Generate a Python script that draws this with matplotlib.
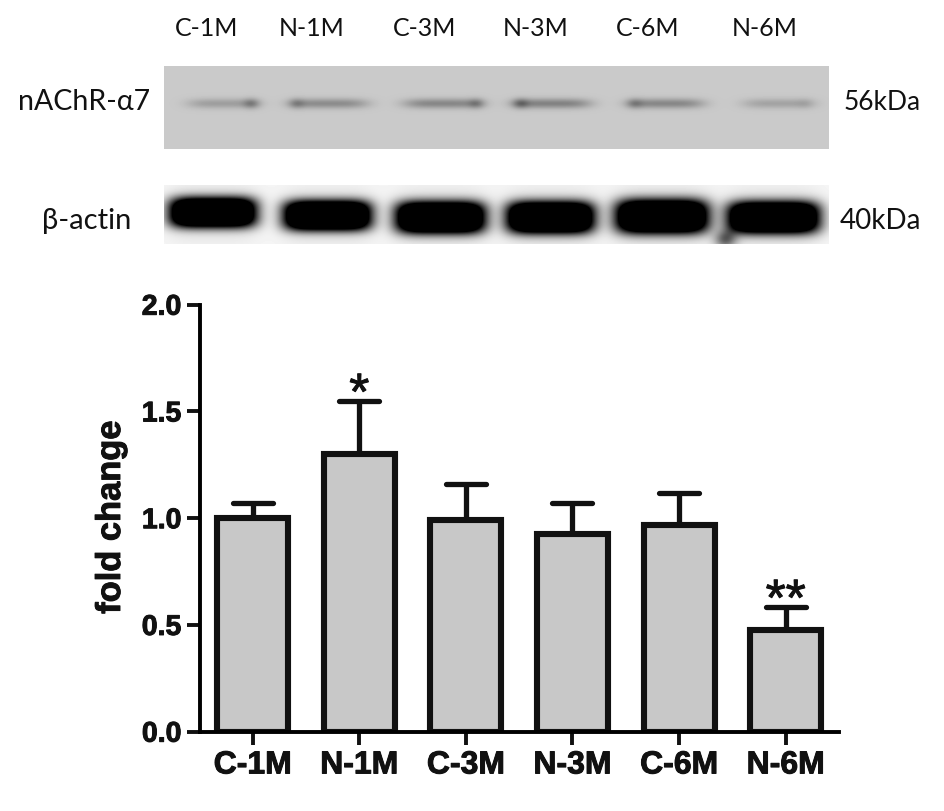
import numpy as np
import matplotlib
matplotlib.use("Agg")
import matplotlib.pyplot as plt
import matplotlib.patheffects as pe
from matplotlib.markers import MarkerStyle

W = 945
H = 812

groups = ['C-1M', 'N-1M', 'C-3M', 'N-3M', 'C-6M', 'N-6M']
fold_change = [1.00, 1.30, 0.99, 0.925, 0.97, 0.475]
err_top = [1.07, 1.55, 1.16, 1.07, 1.12, 0.585]
yticks = [0.0, 0.5, 1.0, 1.5, 2.0]
stars = ['', '*', '', '', '', '**']

# blot bands, read in pixels from the picture
a7_left = [187, 289, 403, 512, 627, 742]
a7_right = [259, 368, 482, 591, 704, 814]
a7_dark = [0.17, 0.24, 0.26, 0.28, 0.26, 0.15]
a7_spot_x = [251, 296, 476, 520, 634, 805]
a7_spot_dark = [0.20, 0.16, 0.18, 0.22, 0.16, 0.05]
actin_left = [169, 283, 395, 506, 615, 727]
actin_right = [256, 371, 485, 594, 708, 819]
actin_mid = [213, 216, 218, 218, 217, 218]
actin_half = [15, 15, 16, 16, 17, 16]

blot_labels = ['C-1M', 'N-1M', 'C-3M', 'N-3M', 'C-6M', 'N-6M']
blot_label_x = [207, 312, 425, 536, 648, 765]


def px_axes(x0, y0, x1, y1):
    # axes from picture pixels, y counted from the top
    return fig.add_axes([x0 / W, 1 - y1 / H, (x1 - x0) / W, (y1 - y0) / H])


def band(xx, yy, left, right, mid, half, sx, sy):
    c = (left + right) / 2
    w = (right - left) / 2
    hx = np.exp(-(np.abs(xx - c) / w) ** sx)
    hy = np.exp(-(np.abs(yy - mid) / half) ** sy)
    return hx * hy


def draw_blot(x0, y0, x1, y1, img):
    ax = px_axes(x0, y0, x1, y1)
    ax.imshow(img, cmap='gray', vmin=0, vmax=1, aspect='auto', interpolation='bilinear')
    ax.axis('off')


fig = plt.figure(figsize=(W / 100, H / 100), dpi=100, facecolor='white')

# top blot
xx, yy = np.meshgrid(np.arange(164, 829), np.arange(67, 150))
img = np.full(xx.shape, 0.79)
for l, r, d in zip(a7_left, a7_right, a7_dark):
    img = img - d * band(xx, yy, l, r, 104, 5, 4, 2)
for sx_, d in zip(a7_spot_x, a7_spot_dark):
    img = img - d * band(xx, yy, sx_ - 8, sx_ + 8, 104, 5, 2, 2)
draw_blot(164, 67, 829, 150, img)

# actin blot
xx, yy = np.meshgrid(np.arange(164, 829), np.arange(186, 245))
img = np.full(xx.shape, 0.97)
for l, r, m, h in zip(actin_left, actin_right, actin_mid, actin_half):
    img = img - 1.8 * band(xx, yy, l, r, m, h, 5, 3)
    img = img - 0.15 * band(xx, yy, l - 4, r + 4, m, h * 1.7, 4, 2)
# smudge under the last lane
img = img - 0.55 * band(xx, yy, 714, 736, 240, 9, 2, 2)
img = np.clip(img, 0, 1)
draw_blot(164, 186, 829, 245, img)

# blot text
font_blot = dict(family='Lato', color='#111111', va='center')
for name, x in zip(blot_labels, blot_label_x):
    fig.text(x / W, 1 - 28 / H, name, ha='center', fontsize=18, **font_blot)
fig.text(150 / W, 1 - 102 / H, 'nAChR-\u03b17', ha='right', fontsize=20.5, **font_blot)
fig.text(131 / W, 1 - 221 / H, '\u03b2-actin', ha='right', fontsize=21, **font_blot)
fig.text(844 / W, 1 - 102 / H, '56kDa', ha='left', fontsize=19, **font_blot)
fig.text(840 / W, 1 - 221 / H, '40kDa', ha='left', fontsize=20, **font_blot)

# bar chart
ax = px_axes(200, 305.7, 839, 732.7)
x = np.arange(len(groups))
ax.bar(x, fold_change, width=0.665, color='#c8c8c8', edgecolor='#111111', linewidth=4.4, zorder=2)

errs = [t - v for t, v in zip(err_top, fold_change)]
eb = ax.errorbar(x, fold_change, yerr=[np.zeros(len(errs)), errs], fmt='none', ecolor='#111111',
                 elinewidth=3.8, capsize=14.5, capthick=3.8, zorder=1)
for cap in eb[1]:
    cap.set_marker(MarkerStyle('_', capstyle='round'))

thick = [pe.withStroke(linewidth=0.7, foreground='#111111')]

for i, s in enumerate(stars):
    if s != '':
        ax.annotate(s, (x[i], err_top[i]), xytext=(0, -6), textcoords='offset points',
                    ha='center', va='baseline', fontsize=37, family='Liberation Sans',
                    color='#111111', path_effects=thick)

ax.set_xlim(-0.494, 5.5)
ax.set_ylim(0, 2)
ax.set_xticks(x)
ax.set_xticklabels(groups)
ax.set_yticks(yticks)
ax.set_yticklabels(['%.1f' % v for v in yticks])
ax.tick_params(axis='both', length=9.5, width=2.8, color='#111111', pad=4)
for lab in ax.get_xticklabels() + ax.get_yticklabels():
    lab.set_family('Liberation Sans')
    lab.set_fontweight('bold')
    lab.set_color('#111111')
    lab.set_path_effects(thick)
for lab in ax.get_xticklabels():
    lab.set_fontsize(23)
for lab in ax.get_yticklabels():
    lab.set_fontsize(20.5)

ax.spines['top'].set_visible(False)
ax.spines['right'].set_visible(False)
ax.spines['left'].set_linewidth(2.8)
ax.spines['bottom'].set_linewidth(2.8)
ax.patch.set_alpha(0)

fig.text(111.5 / W, 1 - 518 / H, 'fold change', rotation=90, ha='center', va='center',
         family='Liberation Sans', fontweight='bold', fontsize=24.8, color='#111111',
         path_effects=thick)

fig.savefig('out.png', dpi=100)
